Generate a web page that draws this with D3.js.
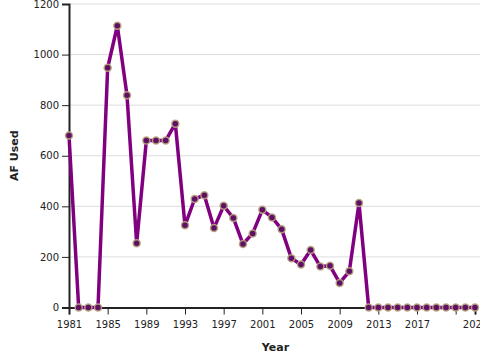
<!DOCTYPE html>
<html>
<head>
<meta charset="utf-8">
<script src="https://cdn.jsdelivr.net/npm/d3@7"></script>
<style>
  body { margin: 0; background: #fff; }
  text { font-family: "DejaVu Sans", sans-serif; }
</style>
</head>
<body>
<div id="chart"></div>
<script>
// data
const years = [1981, 1982, 1983, 1984, 1985, 1986, 1987, 1988, 1989, 1990,
  1991, 1992, 1993, 1994, 1995, 1996, 1997, 1998, 1999, 2000,
  2001, 2002, 2003, 2004, 2005, 2006, 2007, 2008, 2009, 2010,
  2011, 2012, 2013, 2014, 2015, 2016, 2017, 2018, 2019, 2020,
  2021, 2022, 2023];
const afUsed = [680, 0, 0, 0, 948, 1114, 839, 254, 660, 660,
  660, 727, 325, 429, 444, 314, 402, 354, 251, 293,
  386, 356, 309, 195, 170, 227, 162, 165, 97, 143,
  413, 0, 0, 0, 0, 0, 0, 0, 0, 0,
  0, 0, 0];
const xTicks = [1981, 1985, 1989, 1993, 1997, 2001, 2005, 2009, 2013, 2017, 2021, 2023];
const yTicks = [0, 200, 400, 600, 800, 1000, 1200];

const width = 480, height = 360;
const margin = { left: 69, top: 4, right: 5, bottom: 53 };

const svg = d3.select("#chart").append("svg")
  .attr("width", width)
  .attr("height", height);

const x = d3.scaleLinear().domain([1981, 2023]).range([margin.left, width - margin.right]);
const y = d3.scaleLinear().domain([0, 1200]).range([height - margin.bottom + 0.5, margin.top]);

const data = years.map((d, i) => ({ year: d, value: afUsed[i] }));

// gridlines
svg.append("g")
  .selectAll("line")
  .data(yTicks.slice(1))
  .join("line")
  .attr("x1", margin.left)
  .attr("x2", width)
  .attr("y1", d => y(d))
  .attr("y2", d => y(d))
  .attr("stroke", "#ddd")
  .attr("stroke-width", 1);

// x axis (2021 tick kept, its label dropped like in the original)
const xAxis = svg.append("g")
  .attr("transform", `translate(0,${y(0)})`)
  .call(d3.axisBottom(x).tickValues(xTicks).tickFormat(d => d === 2021 ? "" : d).tickSize(7).tickPadding(6));
xAxis.select(".domain").attr("stroke", "#222").attr("stroke-width", 2);
xAxis.selectAll(".tick line").attr("stroke", "#222");
xAxis.selectAll("text").attr("font-size", 10).attr("fill", "#222");

// y axis
const yAxis = svg.append("g")
  .attr("transform", `translate(${margin.left},0)`)
  .call(d3.axisLeft(y).tickValues(yTicks).tickFormat(d3.format("d")).tickSize(7).tickPadding(3));
yAxis.select(".domain").attr("stroke", "#222").attr("stroke-width", 2);
yAxis.selectAll(".tick line").attr("stroke", "#222");
yAxis.selectAll("text").attr("font-size", 10).attr("fill", "#222");

// axis titles
svg.append("text")
  .attr("x", (margin.left + width) / 2 + 1)
  .attr("y", 351)
  .attr("text-anchor", "middle")
  .attr("font-size", 11)
  .attr("font-weight", "bold")
  .attr("fill", "#222")
  .text("Year");

svg.append("text")
  .attr("transform", `translate(18,${(y(0) + y(1200)) / 2}) rotate(-90)`)
  .attr("text-anchor", "middle")
  .attr("font-size", 11)
  .attr("font-weight", "bold")
  .attr("fill", "#222")
  .text("AF Used");

// line
const line = d3.line().x(d => x(d.year)).y(d => y(d.value));
svg.append("path")
  .datum(data)
  .attr("d", line)
  .attr("fill", "none")
  .attr("stroke", "#800080")
  .attr("stroke-width", 3.5)
  .attr("stroke-linejoin", "round");

// points
svg.append("g")
  .selectAll("circle")
  .data(data)
  .join("circle")
  .attr("cx", d => x(d.year))
  .attr("cy", d => y(d.value))
  .attr("r", 3.5)
  .attr("fill", "#5e0f66")
  .attr("stroke", "#b8a47c")
  .attr("stroke-opacity", 0.9)
  .attr("stroke-width", 1.5);
</script>
</body>
</html>
